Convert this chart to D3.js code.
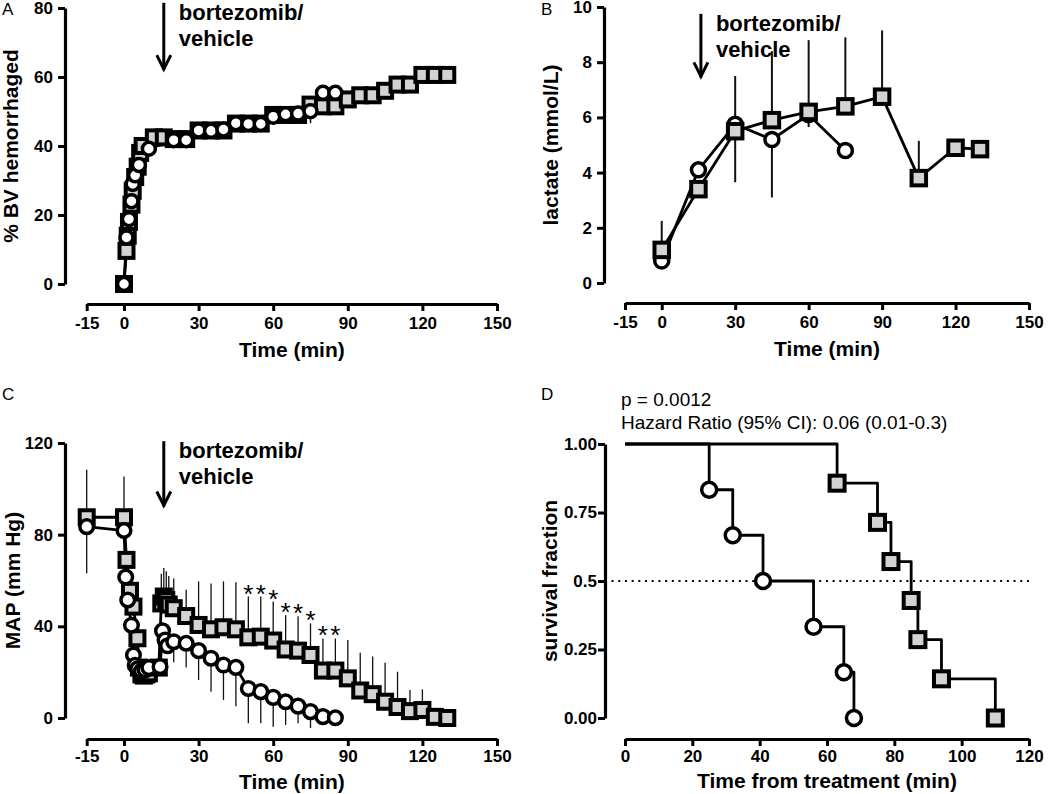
<!DOCTYPE html>
<html>
<head>
<meta charset="utf-8">
<script src="https://cdn.jsdelivr.net/npm/d3@7"></script>
<style>
body { margin: 0; background: #fff; }
</style>
</head>
<body>
<svg id="chart" width="1050" height="794"></svg>
<script>
// ---- panel A : % BV hemorrhaged ----
var aTimeVeh = [0, 1, 2, 3, 3.5, 4.5, 6, 10, 20, 25, 30, 35, 40, 45, 50, 55, 60, 65, 70, 75, 80, 85];
var aVeh     = [0, 13.5, 18.8, 24, 29, 31.5, 34.5, 39.2, 41.7, 41.7, 44.5, 44.4, 44.8, 46.6, 46.4, 46.4, 48.5, 49.2, 49.4, 50.1, 55.4, 55.4];
var aVehErr  = [0, 0, 0, 0, 0, 0, 0, 0, 0, 0, 0, 0, 1, 0, 0, 0, 1.5, 2, 2, 3.5, 0, 0];
var aTimeBtz = [0, 1, 1.5, 2, 3, 3.5, 4.5, 5.5, 6.5, 7.5, 12, 16, 20, 25, 30, 35, 40, 45, 50, 55, 60, 65, 70, 75, 80, 85, 90, 95, 100, 105, 110, 115, 120, 125, 130];
var aBtz     = [0, 9.6, 14, 18, 23, 27, 31, 34, 38, 40, 42.5, 42.5, 42, 42, 44.5, 44.5, 44.5, 46.5, 46.5, 46.5, 49, 49, 49, 52, 51.5, 51.5, 53.5, 54.7, 54.7, 56, 57.8, 57.8, 60.6, 60.6, 60.6];

// ---- panel B : lactate ----
var bTimeBtz = [0, 15, 30, 45, 60, 75, 90, 105, 120, 130];
var bBtz     = [1.2, 3.4, 5.5, 5.9, 6.2, 6.4, 6.75, 3.8, 4.9, 4.85];
var bBtzErr  = [1.05, 0, 2.0, 2.5, 2.6, 2.5, 2.4, 1.35, 0, 0];
var bTimeVeh = [0, 15, 30, 45, 60, 75];
var bVeh     = [0.8, 4.1, 5.75, 5.2, 6.1, 4.8];
var bVehErr  = [0, 0, 2.1, 2.1, 0.45, 0];

// ---- panel C : MAP ----
var cTimeVeh = [-15, 0, 0.7, 1.5, 3, 3.8, 4.5, 5.5, 7, 8.5, 10, 14.5, 15.5, 16.5, 17.5, 20, 25, 30, 35, 40, 45, 50, 55, 60, 65, 70, 75, 80, 85];
var cVeh     = [83.5, 81.8, 61.5, 51.5, 40.5, 27.5, 23, 21.5, 20.5, 21, 22, 22.4, 38, 34, 31.5, 33.3, 32.6, 29.4, 26.1, 23.1, 22.1, 12.9, 11.5, 9, 7.1, 5.2, 2.8, 0.6, 0.1];
var cVehErr  = [20.3, 5, 0, 0, 0, 0, 0, 0, 0, 0, 0, 0, 0, 0, 0, 9, 10.6, 12.8, 14.6, 15.2, 17, 15.2, 13.8, 12.8, 10.1, 7.5, 7.2, 0, 0];
var cTimeBtz = [-15, 0, 1, 2.4, 3.8, 5.4, 6, 7, 8, 9, 10, 14, 15, 16, 17, 18, 20, 25, 30, 35, 40, 45, 50, 55, 60, 65, 70, 75, 80, 85, 90, 95, 100, 105, 110, 115, 120, 125, 130];
var cBtz     = [87.6, 87.6, 69, 55.5, 48.6, 34.8, 22, 19, 18.5, 19, 19.5, 22, 50, 53, 51.5, 49.5, 47.9, 44.5, 40.6, 38.7, 39.6, 38.7, 35.2, 35.5, 33.8, 29.9, 29.4, 27.5, 20.7, 20.7, 17.3, 12, 10.4, 7.1, 4.8, 3, 3.5, 0.5, 0];
var cBtzErr  = [20.7, 17.8, 0, 0, 0, 0, 0, 0, 0, 0, 0, 0, 13, 12.5, 12.5, 12.5, 13, 11.5, 19, 20, 20, 20.5, 17.8, 17.5, 17, 15, 15, 13.8, 14, 14, 16.7, 16.5, 16.4, 17, 15.4, 9.2, 9, 0, 0];
var cStarTimes = [50, 55, 60, 65, 70, 75, 80, 85];

// ---- panel D : survival ----
var dTimeVeh = [25, 32, 41, 56, 65, 68];
var dSurvVeh = [0.833, 0.667, 0.5, 0.333, 0.167, 0];
var dTimeBtz = [63, 75, 79, 85, 87, 94, 110];
var dSurvBtz = [0.857, 0.714, 0.571, 0.429, 0.286, 0.143, 0];

var timeTicks = [-15, 0, 30, 60, 90, 120, 150];
var timeTickLabels = ["-15", "0", "30", "60", "90", "120", "150"];
var dXTicks = [0, 20, 40, 60, 80, 100, 120];
var dYTicks = [0, 0.25, 0.5, 0.75, 1];
var dYTickLabels = ["0.00", "0.25", "0.5", "0.75", "1.00"];
var treatTime = 16;

var FONT = '"Liberation Sans", Arial, Helvetica, sans-serif';
var svg = d3.select("#chart");

function zip(t, v, e) {
	var out = [];
	for (var i = 0; i < t.length; i++)
		out.push({t: t[i], v: v[i], e: e ? e[i] : 0});
	return out;
}

function makePanel(p) {
	var x = d3.scaleLinear().domain(p.xDomain).range(p.xRange);
	var y = d3.scaleLinear().domain(p.yDomain).range(p.yRange);
	var g = svg.append("g");

	var ya = g.append("g").attr("transform", "translate(" + p.yAxisX + ",0)")
		.call(d3.axisLeft(y).tickValues(p.yTicks)
			.tickFormat(function(d, i) { return p.yLabels ? p.yLabels[i] : String(d); })
			.tickSize(7).tickSizeOuter(0).tickPadding(p.yPad));
	var xa = g.append("g").attr("transform", "translate(0," + p.xAxisY + ")")
		.call(d3.axisBottom(x).tickValues(p.xTicks)
			.tickFormat(function(d, i) { return p.xLabels[i]; })
			.tickSize(7).tickSizeOuter(0).tickPadding(p.xPad));
	[ya, xa].forEach(function(a) {
		a.select(".domain").attr("stroke", "#000").attr("stroke-width", 3.2);
		a.selectAll(".tick line").attr("stroke", "#000").attr("stroke-width", 3);
		a.selectAll(".tick text").attr("font-family", FONT).attr("font-size", 17)
			.attr("font-weight", "bold").attr("fill", "#000");
	});

	g.append("text").attr("x", (p.xRange[0] + p.xRange[1]) / 2).attr("y", p.xTitleY)
		.attr("text-anchor", "middle").attr("font-family", FONT).attr("font-size", 21)
		.attr("font-weight", "bold").text(p.xTitle);
	g.append("text")
		.attr("transform", "translate(" + p.yTitleX + "," + (p.yRange[0] + p.yRange[1]) / 2 + ") rotate(-90)")
		.attr("text-anchor", "middle").attr("font-family", FONT).attr("font-size", 21)
		.attr("font-weight", "bold").text(p.yTitle);
	g.append("text").attr("x", p.letterX).attr("y", p.letterY)
		.attr("font-family", FONT).attr("font-size", 17).text(p.letter);

	return {x: x, y: y, g: g};
}

function drawLine(P, data, w) {
	P.g.append("path").datum(data)
		.attr("d", d3.line().x(function(d) { return P.x(d.t); }).y(function(d) { return P.y(d.v); }))
		.attr("fill", "none").attr("stroke", "#000").attr("stroke-width", w).attr("stroke-linejoin", "round");
}

function drawErr(P, data, dir, w) {
	P.g.selectAll(null).data(data.filter(function(d) { return d.e > 0; })).enter().append("line")
		.attr("x1", function(d) { return P.x(d.t); })
		.attr("x2", function(d) { return P.x(d.t); })
		.attr("y1", function(d) { return P.y(d.v); })
		.attr("y2", function(d) { return P.y(d.v + dir * d.e); })
		.attr("stroke", "#111").attr("stroke-width", w);
}

function drawSquares(P, data, s) {
	P.g.selectAll(null).data(data).enter().append("rect")
		.attr("x", function(d) { return P.x(d.t) - s / 2; })
		.attr("y", function(d) { return P.y(d.v) - s / 2; })
		.attr("width", s).attr("height", s)
		.attr("fill", "#d3d3d3").attr("stroke", "#000").attr("stroke-width", 4);
}

function drawCircles(P, data, r) {
	P.g.selectAll(null).data(data).enter().append("circle")
		.attr("cx", function(d) { return P.x(d.t); })
		.attr("cy", function(d) { return P.y(d.v); })
		.attr("r", r)
		.attr("fill", "#fff").attr("stroke", "#000").attr("stroke-width", 3.5);
}

function drawArrow(P, yTop, yBot) {
	var ax = P.x(treatTime), y1 = P.y(yTop), y2 = P.y(yBot);
	P.g.append("line").attr("x1", ax).attr("x2", ax).attr("y1", y1).attr("y2", y2)
		.attr("stroke", "#000").attr("stroke-width", 3);
	P.g.append("path")
		.attr("d", "M" + (ax - 7) + "," + (y2 - 15) + "L" + ax + "," + (y2 - 1) + "L" + (ax + 7) + "," + (y2 - 15))
		.attr("fill", "none").attr("stroke", "#000").attr("stroke-width", 3);
	var t = P.g.append("text").attr("font-family", FONT).attr("font-size", 22).attr("font-weight", "bold");
	t.append("tspan").attr("x", ax + 15).attr("y", y1 + 17).text("bortezomib/");
	t.append("tspan").attr("x", ax + 15).attr("y", y1 + 43).text("vehicle");
}

// ---------- A ----------
var A = makePanel({
	xDomain: [-15, 150], xRange: [86.7, 497], yDomain: [0, 80], yRange: [284, 8],
	yAxisX: 65, xAxisY: 304, yTicks: [0, 20, 40, 60, 80], xTicks: timeTicks, xLabels: timeTickLabels,
	yPad: 5, xPad: 6, xTitle: "Time (min)", xTitleY: 357, yTitle: "% BV hemorrhaged", yTitleX: 18,
	letter: "A", letterX: 2, letterY: 15
});
var aV = zip(aTimeVeh, aVeh, aVehErr), aB = zip(aTimeBtz, aBtz);
drawLine(A, aB, 2.8);
drawLine(A, aV, 2.8);
drawErr(A, aV, 1, 1.5);
drawErr(A, aV, -1, 1.5);
drawSquares(A, aB, 14);
drawCircles(A, aV, 6.5);
drawArrow(A, 81.5, 62);

// ---------- B ----------
var B = makePanel({
	xDomain: [-15, 150], xRange: [625, 1029], yDomain: [0, 10], yRange: [283, 7],
	yAxisX: 604, xAxisY: 303, yTicks: [0, 2, 4, 6, 8, 10], xTicks: timeTicks, xLabels: timeTickLabels,
	yPad: 5, xPad: 6, xTitle: "Time (min)", xTitleY: 356, yTitle: "lactate (mmol/L)", yTitleX: 558,
	letter: "B", letterX: 541, letterY: 15
});
var bV = zip(bTimeVeh, bVeh, bVehErr), bB = zip(bTimeBtz, bBtz, bBtzErr);
drawErr(B, bB, 1, 2);
drawErr(B, bV, -1, 2);
drawLine(B, bV, 2.8);
drawLine(B, bB, 2.8);
drawCircles(B, bV, 7);
drawSquares(B, bB, 14.5);
drawArrow(B, 9.75, 7.45);

// ---------- C ----------
var C = makePanel({
	xDomain: [-15, 150], xRange: [86.7, 497], yDomain: [0, 120], yRange: [718, 443],
	yAxisX: 65, xAxisY: 739, yTicks: [0, 40, 80, 120], xTicks: timeTicks, xLabels: timeTickLabels,
	yPad: 5, xPad: 4, xTitle: "Time (min)", xTitleY: 789, yTitle: "MAP (mm Hg)", yTitleX: 20,
	letter: "C", letterX: 2, letterY: 400
});
var cV = zip(cTimeVeh, cVeh, cVehErr), cB = zip(cTimeBtz, cBtz, cBtzErr);
drawErr(C, cB, 1, 1.3);
drawErr(C, cV, -1, 1.3);
drawLine(C, cB, 2.8);
drawLine(C, cV, 2.8);
drawSquares(C, cB, 14);
drawCircles(C, cV, 6.8);
drawArrow(C, 120.8, 92.3);
C.g.selectAll(null).data(cB.filter(function(d) { return cStarTimes.indexOf(d.t) >= 0; }))
	.enter().append("text")
	.attr("x", function(d) { return C.x(d.t); })
	.attr("y", function(d) { return C.y(d.v + d.e) + 6; })
	.attr("text-anchor", "middle").attr("font-family", FONT).attr("font-size", 26)
	.text("*");

// ---------- D ----------
var D = makePanel({
	xDomain: [0, 120], xRange: [625, 1029], yDomain: [0, 1], yRange: [718, 444],
	yAxisX: 605, xAxisY: 739, yTicks: dYTicks, yLabels: dYTickLabels, xTicks: dXTicks,
	xLabels: dXTicks.map(String), yPad: 1, xPad: 4, xTitle: "Time from treatment (min)", xTitleY: 788,
	yTitle: "survival fraction", yTitleX: 557, letter: "D", letterX: 541, letterY: 400
});

function kmSteps(times, surv) {
	var pts = [{t: 0, v: 1}], prev = 1;
	for (var i = 0; i < times.length; i++) {
		pts.push({t: times[i], v: prev});
		pts.push({t: times[i], v: surv[i]});
		prev = surv[i];
	}
	return pts;
}

D.g.append("line").attr("x1", D.x(-4)).attr("x2", D.x(120)).attr("y1", D.y(0.5)).attr("y2", D.y(0.5))
	.attr("stroke", "#000").attr("stroke-width", 2).attr("stroke-dasharray", "2,4.7");
drawLine(D, kmSteps(dTimeVeh, dSurvVeh), 2.8);
drawLine(D, kmSteps(dTimeBtz, dSurvBtz), 2.8);
drawCircles(D, zip(dTimeVeh, dSurvVeh), 7.5);
drawSquares(D, zip(dTimeBtz, dSurvBtz), 15);

D.g.append("text").attr("x", 621).attr("y", 406).attr("font-family", FONT).attr("font-size", 19)
	.text("p = 0.0012");
D.g.append("text").attr("x", 621).attr("y", 429).attr("font-family", FONT).attr("font-size", 19)
	.text("Hazard Ratio (95% CI): 0.06 (0.01-0.3)");
</script>
</body>
</html>
